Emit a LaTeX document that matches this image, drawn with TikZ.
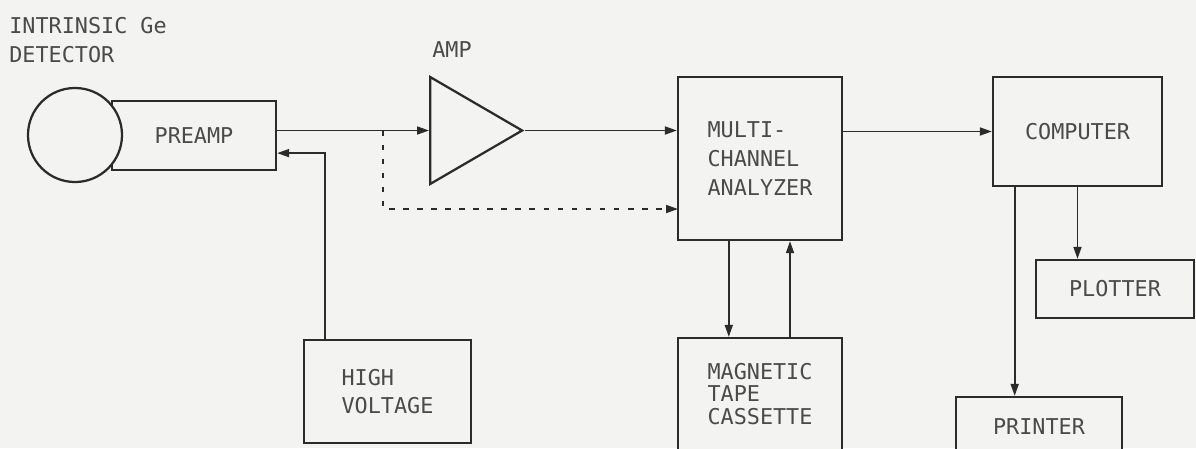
\documentclass[tikz,border=0pt]{standalone}
\usepackage{fontspec}
\setmonofont{DejaVu Sans Mono}
\usepackage{xcolor}
\definecolor{cBg}{HTML}{F3F3F1}
\definecolor{cLine}{HTML}{2B2B2B}
\definecolor{cText}{HTML}{4A4A4A}
\usetikzlibrary{positioning, arrows.meta, shapes.geometric}

\begin{document}
\begin{tikzpicture}[
    x=0.025cm, y=-0.025cm,
    unitbox/.style={draw=cLine, line width=1.6pt, fill=cBg, align=left,
                    text=cText, inner sep=0pt, font=\ttfamily\fontsize{15.5}{20.5}\selectfont},
    tag/.style={text=cText, align=left, inner sep=0pt,
                font=\ttfamily\fontsize{15.5}{20.5}\selectfont},
    arr/.style={-{Triangle[length=3mm, width=2mm]}, line width=1.2pt, color=cLine},
    darr/.style={-{Triangle[length=3mm, width=2mm]}, dash pattern=on 4pt off 6pt,
                 line width=1.2pt, color=cLine}
]
\fill[cBg] (0,0) rectangle (1196,448);
\useasboundingbox (0,0) rectangle (1196,448);

% detector head
\node[tag, anchor=north west] (dlabel) at (9,17) {INTRINSIC Ge\\DETECTOR};
\node[unitbox, minimum width=4.1cm, minimum height=1.725cm, align=center] (preamp) at (194,135.5) {PREAMP};
\node[draw=cLine, line width=1.6pt, fill=cBg, circle, minimum size=2.35cm, inner sep=0pt] (det) at (75,135) {};

% amplifier
\node[tag] (amplabel) at (452,50) {AMP};
\node[draw=cLine, line width=1.6pt, fill=cBg, isosceles triangle, isosceles triangle stretches,
      minimum width=2.675cm, minimum height=2.3cm, inner sep=0pt, anchor=west] (amp) at (429,130.5) {};

% boxes
\node[unitbox, minimum width=4.1cm, minimum height=4.075cm] (mca) at (760,158.5) {MULTI-\\CHANNEL\\ANALYZER};
\node[unitbox, minimum width=4.225cm, minimum height=2.725cm] (comp) at (1077.5,131.5) {COMPUTER};
\node[unitbox, minimum width=3.95cm, minimum height=1.45cm] (plot) at (1115,289) {PLOTTER};
\node[unitbox, minimum width=4.15cm, minimum height=1.5cm] (prt) at (1039,427) {PRINTER};
\node[unitbox, minimum width=4.175cm, minimum height=2.575cm] (hv) at (387.5,391.5) {HIGH\\VOLTAGE};
\node[unitbox, minimum width=4.1cm, minimum height=2.8cm,
      font=\ttfamily\fontsize{15.5}{16}\selectfont] (tape) at (760,394) {MAGNETIC\\TAPE\\CASSETTE};

% signal path
\coordinate (tap) at (383,130.5);
\coordinate (dashin) at (678,209);
\draw[arr] (preamp.east |- amp.west) -- (amp.west);
\draw[darr] (tap) |- (dashin);
\draw[arr] (amp.east) -- (mca.west |- amp.east);
\draw[arr] (mca.east |- comp.west) -- (comp.west);

% high voltage feed
\coordinate (hvout) at ([xshift=-1.57cm]hv.north);
\draw[arr] (hvout) |- ([yshift=-0.44cm]preamp.east);

% tape link
\coordinate (mcadown) at ([xshift=-0.78cm]mca.south);
\coordinate (tapeup) at ([xshift=0.75cm]tape.north);
\draw[arr] (mcadown) -- (mcadown |- tape.north);
\draw[arr] (tapeup) -- (tapeup |- mca.south);

% computer outputs
\coordinate (cprt) at ([xshift=-1.57cm]comp.south);
\draw[arr] (comp.south) -- (comp.south |- plot.north);
\draw[arr] (cprt) -- (cprt |- prt.north);
\end{tikzpicture}
\end{document}
